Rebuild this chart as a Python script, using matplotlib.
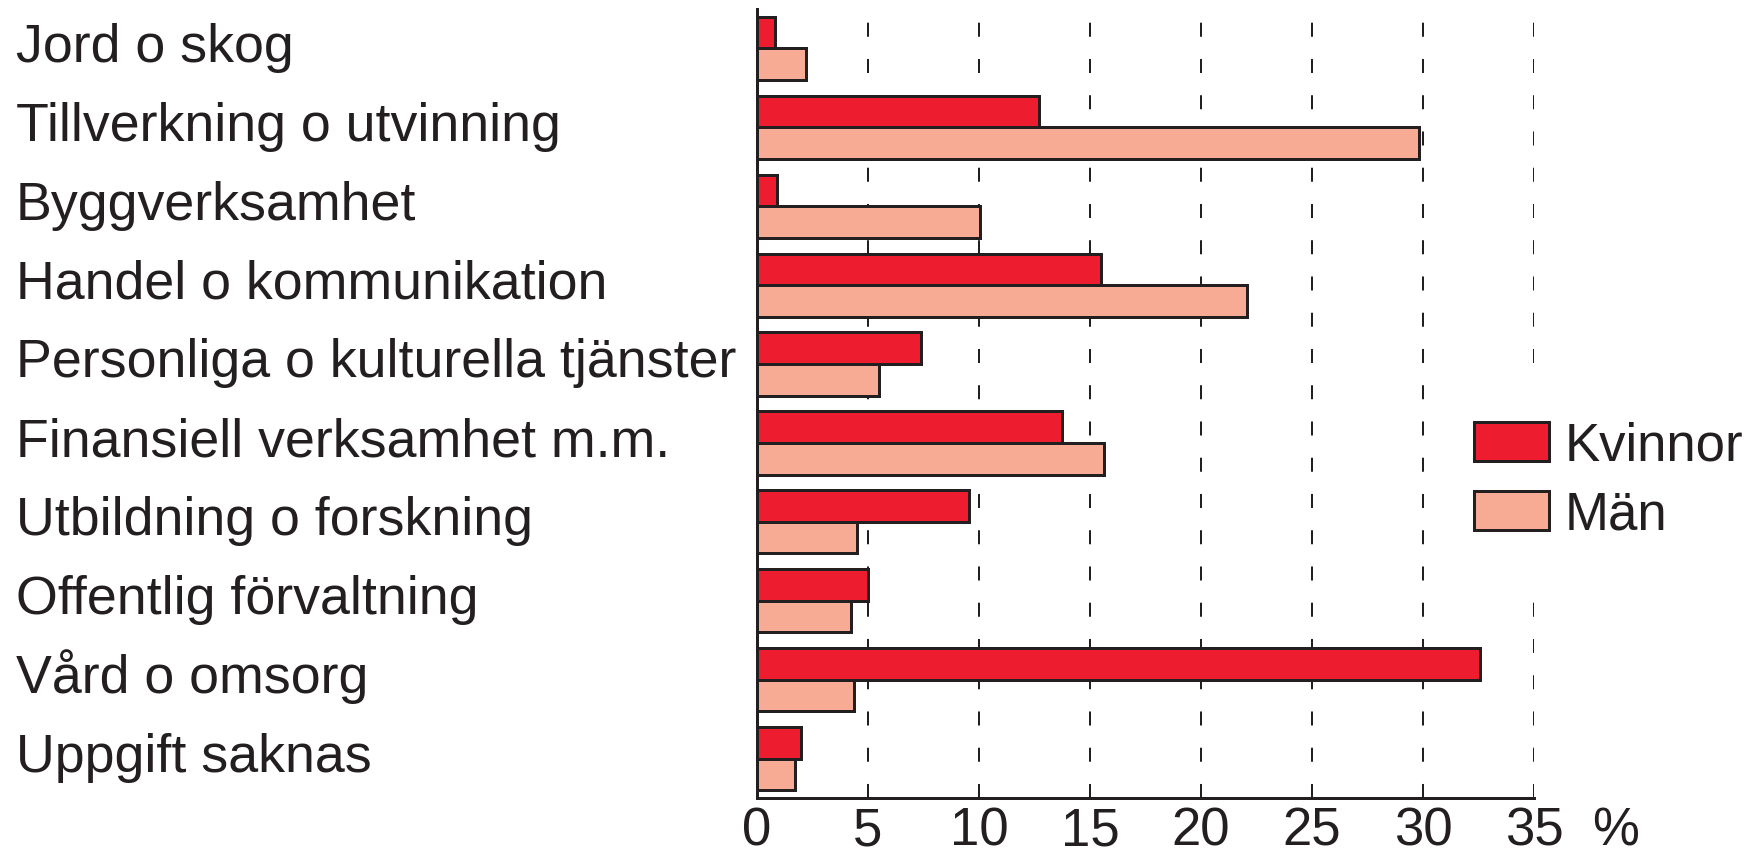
import matplotlib
matplotlib.use("Agg")
import matplotlib.pyplot as plt
import matplotlib.transforms as mtransforms
import numpy as np

# Andel sysselsatta per näringsgren (%)
categories = ["Jord o skog", "Tillverkning o utvinning", "Byggverksamhet",
              "Handel o kommunikation", "Personliga o kulturella tjänster",
              "Finansiell verksamhet m.m.", "Utbildning o forskning",
              "Offentlig förvaltning", "Vård o omsorg", "Uppgift saknas"]
kvinnor = [0.8, 12.7, 0.9, 15.5, 7.4, 13.75, 9.55, 5.0, 32.55, 2.0]
man = [2.2, 29.8, 10.05, 22.05, 5.5, 15.65, 4.5, 4.25, 4.35, 1.7]
xticks = [0, 5, 10, 15, 20, 25, 30, 35]
series_names = ["Kvinnor", "Män"]

plt.rcParams['font.family'] = ['Liberation Sans', 'DejaVu Sans']
plt.rcParams['lines.scale_dashes'] = False

ink = '#231f20'
red = '#ED1C2E'
salmon = '#F7AB95'
fs = 38

fig = plt.figure(figsize=(17.51, 8.56), dpi=100)
ax = fig.add_axes([757/1751, 1 - 798/856, (1534-757)/1751, (798-9)/856])

y = np.arange(len(categories))
h = 0.4
bk = ax.barh(y - h/2, kvinnor, height=h, color=red, edgecolor=ink, linewidth=2.16, zorder=3, label=series_names[0])
bm = ax.barh(y + h/2, man, height=h, color=salmon, edgecolor=ink, linewidth=2.16, zorder=3, label=series_names[1])

ax.set_xlim(0, 35)
ax.set_ylim(len(categories) - 0.5, -0.5)

# dashed vertical grid
ax.set_axisbelow(True)
ax.grid(axis='x', color=ink, linewidth=1.44, linestyle=(0, (10.1, 16.0)))

for s in ['top', 'right']:
    ax.spines[s].set_visible(False)
for s in ['left', 'bottom']:
    ax.spines[s].set_linewidth(2.16)
    ax.spines[s].set_color(ink)

ax.set_xticks(xticks)
ax.set_xticklabels([str(t) for t in xticks])
ax.tick_params(axis='x', length=0, pad=6.0, labelsize=fs, colors=ink)
ax.set_yticks([])

# category labels, left aligned at figure edge
trans = mtransforms.blended_transform_factory(fig.transFigure, ax.transData)
for i, c in enumerate(categories):
    ax.text(16/1751, i + 0.17, c, transform=trans, ha='left', va='baseline',
            fontsize=38.7, color=ink, clip_on=False)

ax.annotate('%', xy=(35, 0), xycoords=('data', 'axes fraction'),
            xytext=(41.8, -6.0), textcoords='offset points',
            ha='left', va='top', fontsize=fs, color=ink)

leg = ax.legend(handles=[bk, bm], loc='upper left',
                bbox_to_anchor=(1432/1751, 1 - 379/856), bbox_transform=fig.transFigure,
                fontsize=fs, frameon=True, framealpha=1, facecolor='white', edgecolor='none',
                fancybox=False, borderpad=0.8, borderaxespad=0, handlelength=1.42,
                handleheight=0.757, handletextpad=0.3, labelspacing=0.36)
for t in leg.get_texts():
    t.set_color(ink)
for p in leg.get_patches():
    p.set_linewidth(2.16)

fig.savefig('out.png', dpi=100)
